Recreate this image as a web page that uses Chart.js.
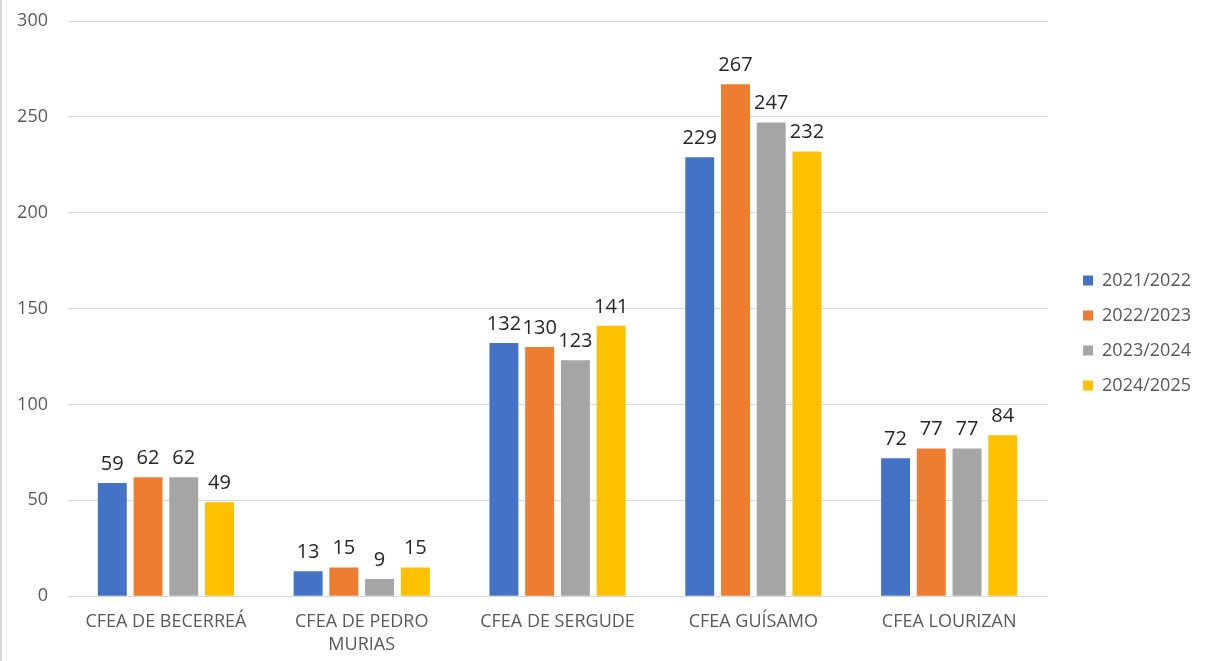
<!DOCTYPE html>
<html>
<head>
<meta charset="utf-8">
<script src="https://cdn.jsdelivr.net/npm/chart.js@4.4.1/dist/chart.umd.min.js"></script>
<style>
  html, body { margin: 0; padding: 0; background: #fff; }
  #wrap { position: relative; width: 1207px; height: 661px; box-sizing: border-box; border-left: 2px solid #d9d9d9; }
  #chart { display: block; }
</style>
</head>
<body>
<div id="wrap"><canvas id="chart" width="1205" height="661"></canvas></div>
<script>
const categories = ["CFEA DE BECERREÁ", ["CFEA DE PEDRO", "MURIAS"], "CFEA DE SERGUDE", "CFEA GUÍSAMO", "CFEA LOURIZAN"];
const seriesNames = ["2021/2022", "2022/2023", "2023/2024", "2024/2025"];
const s2021 = [59, 13, 132, 229, 72];
const s2022 = [62, 15, 130, 267, 77];
const s2023 = [62, 9, 123, 247, 77];
const s2024 = [49, 15, 141, 232, 84];
const colors = ["#4472C4", "#ED7D31", "#A5A5A5", "#FFC000"];

const fontFamily = "'Open Sans', Lato, sans-serif";

// numbers above each bar
const valueLabels = {
  id: "valueLabels",
  afterDatasetsDraw(chart) {
    const ctx = chart.ctx;
    ctx.save();
    ctx.font = "20px " + fontFamily;
    ctx.fillStyle = "#262626";
    ctx.textAlign = "center";
    ctx.textBaseline = "bottom";
    chart.data.datasets.forEach((ds, i) => {
      chart.getDatasetMeta(i).data.forEach((bar, j) => {
        ctx.fillText(ds.data[j], bar.x, bar.y - 9);
      });
    });
    ctx.restore();
  }
};

// leave a wider gap between plot and legend, nudge legend up
const legendGap = {
  id: "legendGap",
  beforeLayout(chart) {
    const lg = chart.legend;
    if (lg && !lg._gapPatched) {
      const fit = lg.fit.bind(lg);
      lg.fit = function () { fit(); this.width += 25; };
      lg._gapPatched = true;
    }
  },
  afterLayout(chart) {
    const lg = chart.legend;
    if (!lg) return;
    lg.left += 19;
    lg.top -= 8;
    lg.bottom -= 8;
  }
};

new Chart(document.getElementById("chart"), {
  type: "bar",
  data: {
    labels: categories,
    datasets: [s2021, s2022, s2023, s2024].map((d, i) => ({
      label: seriesNames[i],
      data: d,
      backgroundColor: colors[i],
      categoryPercentage: 0.73,
      barPercentage: 0.81
    }))
  },
  options: {
    responsive: false,
    animation: false,
    layout: { padding: { top: 21, right: 0, left: 13, bottom: 0 } },
    plugins: {
      legend: {
        position: "right",
        labels: {
          boxWidth: 10,
          boxHeight: 10,
          padding: 17,
          color: "#595959",
          font: { family: fontFamily, size: 18 }
        }
      },
      tooltip: { enabled: false }
    },
    scales: {
      x: {
        afterFit(scale) { scale.height -= 2; },
        grid: { display: false },
        border: { color: "#d9d9d9", width: 1 },
        ticks: {
          color: "#595959",
          font: { family: fontFamily, size: 18, lineHeight: 1.3 },
          maxRotation: 0,
          padding: 6
        }
      },
      y: {
        min: 0,
        max: 300,
        afterFit(scale) { scale.width = 53; scale.paddingTop = 0; },
        ticks: {
          stepSize: 50,
          color: "#595959",
          font: { family: fontFamily, size: 18 },
          padding: 20
        },
        grid: { color: "#d9d9d9", drawTicks: false },
        border: { display: false }
      }
    }
  },
  plugins: [valueLabels, legendGap]
});
</script>
</body>
</html>
